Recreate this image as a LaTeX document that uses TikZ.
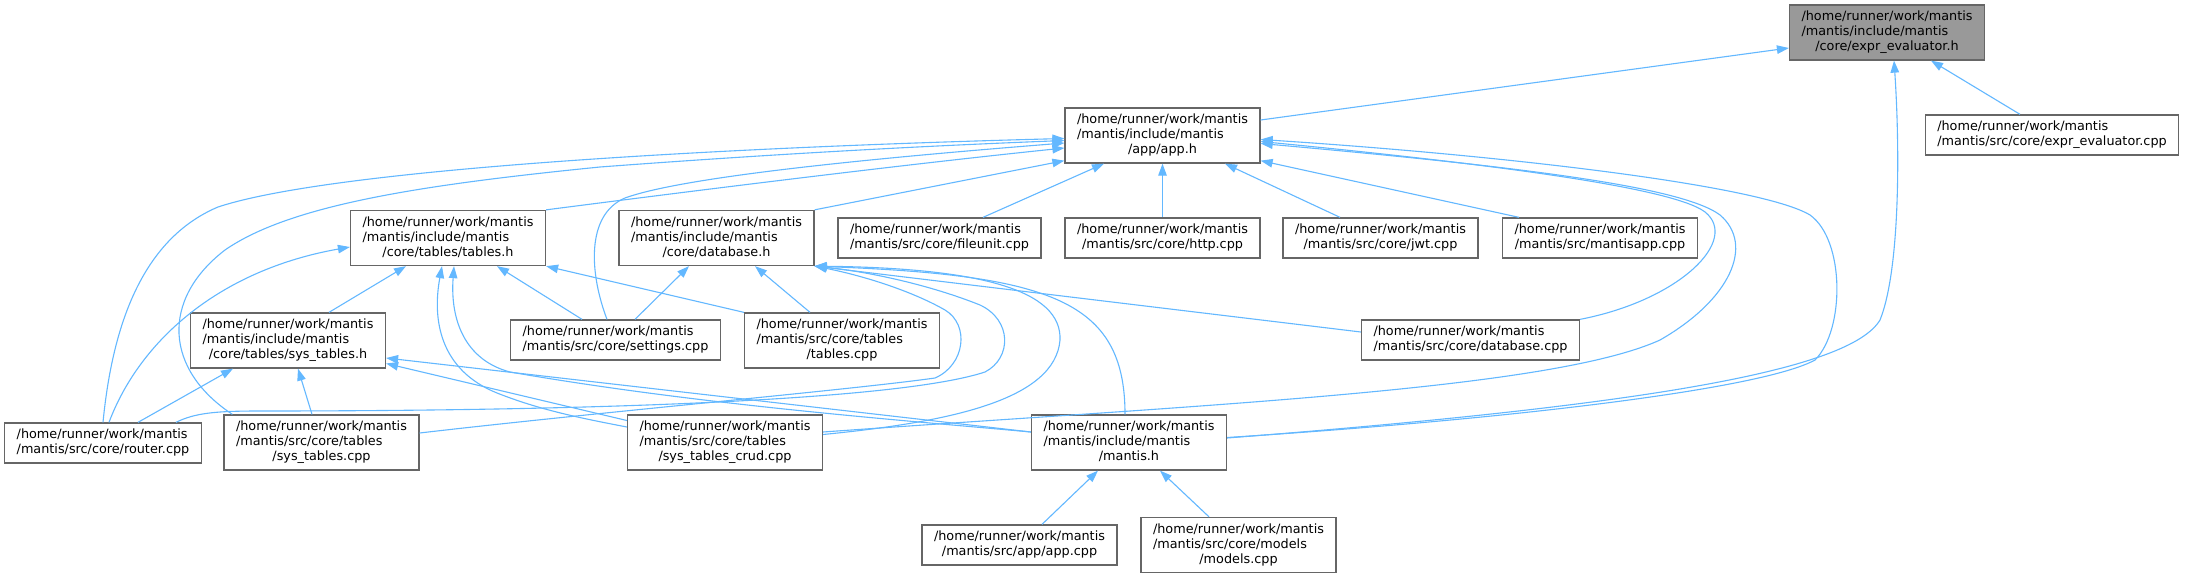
\documentclass[tikz,border=0pt]{standalone}
\usepackage{fontspec}
\setmainfont{DejaVu Sans}
\usetikzlibrary{arrows.meta,calc}
\definecolor{edgeblue}{HTML}{63B8FF}
\definecolor{nodeborder}{HTML}{666666}
\definecolor{nodegray}{HTML}{999999}
\newcommand{\threelines}[3]{\begin{tabular}{@{}l@{}}#1\\#2\\\multicolumn{1}{@{}c@{}}{#3}\end{tabular}}
\newcommand{\twolines}[2]{\begin{tabular}{@{}l@{}}#1\\\multicolumn{1}{@{}c@{}}{#2}\end{tabular}}
\begin{document}
\begin{tikzpicture}[x=1bp,y=-1bp,
  font=\fontsize{12.8bp}{15bp}\selectfont,
  fnode/.style={draw=nodeborder, line width=1.3bp, fill=white, inner xsep=12bp, inner ysep=5bp, text=black},
  focus/.style={fnode, fill=nodegray},
  dep/.style={draw=edgeblue, line width=1.1bp, arrows={Triangle[length=12bp,width=8.5bp]-}}]
\fill[white] (0,0) rectangle (2185,579);
\useasboundingbox (0,0) rectangle (2185,579);

% nodes
\node[focus] (exprh) at (1887,32.5) {\threelines{/home/runner/work/mantis}{/mantis/include/mantis}{/core/expr\_evaluator.h}};
\node[fnode] (apph) at (1162.5,135.5) {\threelines{/home/runner/work/mantis}{/mantis/include/mantis}{/app/app.h}};
\node[fnode] (exprcpp) at (2052,135) {\twolines{/home/runner/work/mantis}{/mantis/src/core/expr\_evaluator.cpp}};
\node[fnode] (tablesh) at (448,238) {\threelines{/home/runner/work/mantis}{/mantis/include/mantis}{/core/tables/tables.h}};
\node[fnode] (databaseh) at (716.5,238) {\threelines{/home/runner/work/mantis}{/mantis/include/mantis}{/core/database.h}};
\node[fnode] (fileunit) at (939.5,238) {\twolines{/home/runner/work/mantis}{/mantis/src/core/fileunit.cpp}};
\node[fnode] (http) at (1162.5,238) {\twolines{/home/runner/work/mantis}{/mantis/src/core/http.cpp}};
\node[fnode] (jwt) at (1380.5,238) {\twolines{/home/runner/work/mantis}{/mantis/src/core/jwt.cpp}};
\node[fnode] (mantisapp) at (1600,238) {\twolines{/home/runner/work/mantis}{/mantis/src/mantisapp.cpp}};
\node[fnode] (systablesh) at (288,340.5) {\threelines{/home/runner/work/mantis}{/mantis/include/mantis}{/core/tables/sys\_tables.h}};
\node[fnode] (settings) at (615.5,340) {\twolines{/home/runner/work/mantis}{/mantis/src/core/settings.cpp}};
\node[fnode] (tablescpp) at (842,340.5) {\threelines{/home/runner/work/mantis}{/mantis/src/core/tables}{/tables.cpp}};
\node[fnode] (databasecpp) at (1470.5,340) {\twolines{/home/runner/work/mantis}{/mantis/src/core/database.cpp}};
\node[fnode] (router) at (103,443) {\twolines{/home/runner/work/mantis}{/mantis/src/core/router.cpp}};
\node[fnode] (systablescpp) at (321.5,442.5) {\threelines{/home/runner/work/mantis}{/mantis/src/core/tables}{/sys\_tables.cpp}};
\node[fnode] (crud) at (725,442.5) {\threelines{/home/runner/work/mantis}{/mantis/src/core/tables}{/sys\_tables\_crud.cpp}};
\node[fnode] (mantish) at (1129,442.5) {\threelines{/home/runner/work/mantis}{/mantis/include/mantis}{/mantis.h}};
\node[fnode] (appcpp) at (1019.5,545) {\twolines{/home/runner/work/mantis}{/mantis/src/app/app.cpp}};
\node[fnode] (models) at (1238.5,545) {\threelines{/home/runner/work/mantis}{/mantis/src/core/models}{/models.cpp}};

% edges into expr_evaluator.h
\draw[dep] ($(exprh.west)+(0,15.5)$) -- ($(apph.east)+(0,-15.5)$);
\draw[dep] ($(exprh.south)+(44,0)$) -- ($(exprcpp.north)+(-32,0)$);
\draw[dep] ($(exprh.south)+(7,0)$) .. controls (1900,150) and (1900,270) .. (1880,320) .. controls (1850,370) and (1650,405) .. ($(mantish.east)+(0,-4.5)$);

% edges into app.h
\draw[dep] ($(apph.east)+(0,4)$) .. controls (1500,155) and (1760,185) .. (1810,215) .. controls (1845,240) and (1845,330) .. (1815,360) .. controls (1760,390) and (1500,420) .. ($(mantish.east)+(0,-5)$);
\draw[dep] ($(apph.east)+(0,6)$) .. controls (1450,160) and (1670,185) .. (1705,212) .. controls (1740,240) and (1680,300) .. (databasecpp.north east);
\draw[dep] ($(apph.east)+(0,8)$) .. controls (1500,165) and (1680,185) .. (1720,215) .. controls (1755,245) and (1730,300) .. (1660,340) .. controls (1550,390) and (1200,405) .. ($(crud.east)+(0,-10.5)$);
\draw[dep] ($(apph.south east)+(0,-3)$) -- ($(mantisapp.north)+(-81,0)$);
\draw[dep] ($(apph.south)+(62.5,0)$) -- ($(jwt.north)+(-40.5,0)$);
\draw[dep] (apph.south) -- (http.north);
\draw[dep] ($(apph.south)+(-58.5,0)$) -- ($(fileunit.north)+(43.5,0)$);
\draw[dep] ($(apph.south west)+(0,-3)$) -- (databaseh.north east);
\draw[dep] ($(apph.west)+(0,12.5)$) .. controls (900,165) and (700,190) .. (tablesh.north east);
\draw[dep] ($(apph.west)+(0,7.5)$) .. controls (850,160) and (680,178) .. (625,198) .. controls (585,215) and (590,275) .. ($(settings.north)+(-8.5,0)$);
\draw[dep] ($(apph.west)+(0,5)$) .. controls (950,145) and (800,152) .. (600,167) .. controls (420,185) and (290,205) .. (225,250) .. controls (160,300) and (165,370) .. ($(systablescpp.north west)+(9,0)$);
\draw[dep] ($(apph.west)+(0,3)$) .. controls (700,148) and (330,170) .. (218,207) .. controls (140,240) and (112,330) .. (router.north);

% edges into tables.h
\draw[dep] ($(tablesh.west)+(0,9)$) .. controls (220,270) and (140,340) .. ($(router.north)+(6,0)$);
\draw[dep] ($(tablesh.south)+(-42,0)$) -- ($(systablesh.north)+(41,0)$);
\draw[dep] ($(tablesh.south)+(49,0)$) -- ($(settings.north)+(-33.5,0)$);
\draw[dep] (tablesh.south east) -- (tablescpp.north west);
\draw[dep] ($(tablesh.south)+(-6,0)$) .. controls (432,320) and (440,370) .. (497,393) .. controls (540,410) and (580,418) .. ($(crud.west)+(0,-15.5)$);
\draw[dep] ($(tablesh.south)+(6,0)$) .. controls (450,320) and (465,360) .. (510,372) .. controls (700,405) and (900,420) .. ($(mantish.west)+(0,-10.5)$);

% edges into database.h
\draw[dep] ($(databaseh.south)+(-27.5,0)$) -- ($(settings.north)+(19.5,0)$);
\draw[dep] ($(databaseh.south)+(38.5,0)$) -- ($(tablescpp.north)+(-32,0)$);
\draw[dep] (databaseh.south east) -- ($(databasecpp.west)+(0,-8)$);
\draw[dep] (databaseh.south east) .. controls (870,272) and (930,285) .. (980,305) .. controls (1012,320) and (1012,358) .. (985,372) .. controls (900,400) and (600,411) .. (260,411) .. controls (215,411) and (195,413) .. ($(router.north east)+(-26,0)$);
\draw[dep] (databaseh.south east) .. controls (860,275) and (910,290) .. (945,310) .. controls (970,325) and (965,365) .. (935,378) .. controls (850,390) and (600,412) .. ($(systablescpp.east)+(0,-9.5)$);
\draw[dep] (databaseh.south east) .. controls (980,268) and (1062,290) .. (1060,340) .. controls (1055,400) and (950,422) .. ($(crud.east)+(0,-8)$);
\draw[dep] (databaseh.south east) .. controls (1050,275) and (1125,300) .. ($(mantish.north)+(-4,0)$);

% edges into sys_tables.h
\draw[dep] ($(systablesh.south)+(-55,0)$) -- ($(router.north)+(35,0)$);
\draw[dep] ($(systablesh.south)+(10,0)$) -- ($(systablescpp.north)+(-9.5,0)$);
\draw[dep] ($(systablesh.east)+(0,17.5)$) -- ($(mantish.west)+(0,-10.5)$);
\draw[dep] ($(systablesh.east)+(0,23)$) -- ($(crud.west)+(0,-22)$);

% edges into mantis.h
\draw[dep] ($(mantish.south)+(-31,0)$) -- ($(appcpp.north)+(22.5,0)$);
\draw[dep] ($(mantish.south)+(31,0)$) -- ($(models.north)+(-29.5,0)$);
\end{tikzpicture}
\end{document}
